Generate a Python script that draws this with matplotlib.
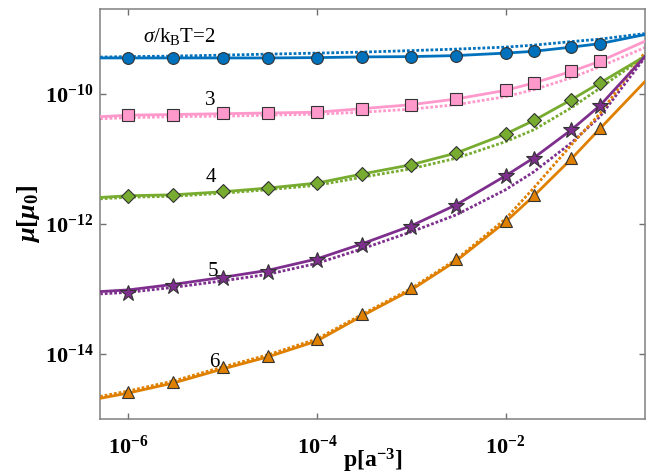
import numpy as np
import matplotlib
matplotlib.use('Agg')
from matplotlib import pyplot as plt
import matplotlib.ticker as mtick

plt.rcParams['font.family'] = ['Liberation Serif', 'DejaVu Serif']
plt.rcParams['mathtext.fontset'] = 'custom'
plt.rcParams['mathtext.rm'] = 'Liberation Serif'
plt.rcParams['mathtext.it'] = 'Liberation Serif:italic'
plt.rcParams['mathtext.bf'] = 'Liberation Serif:bold'
plt.rcParams['mathtext.sf'] = 'Liberation Serif:bold:italic'

# density p [a^-3]
p_line = [5e-7, 1e-6, 3e-6, 1e-5, 3e-5, 1e-4, 3e-4, 1e-3, 3e-3, 1e-2, 2e-2, 5e-2, 1e-1, 3e-1]
p_mark = [1e-6, 3e-6, 1e-5, 3e-5, 1e-4, 3e-4, 1e-3, 3e-3, 1e-2, 2e-2, 5e-2, 1e-1]

# sigma/kBT = 2
mu2_solid = [3.54e-10, 3.54e-10, 3.54e-10, 3.54e-10, 3.54e-10, 3.58e-10, 3.67e-10,
             3.71e-10, 3.85e-10, 4.20e-10, 4.48e-10, 5.19e-10, 5.87e-10, 8.09e-10]
mu2_dot = [3.65e-10, 3.71e-10, 3.78e-10, 3.91e-10, 4.05e-10, 4.20e-10, 4.35e-10,
           4.59e-10, 4.84e-10, 5.19e-10, 5.57e-10, 6.31e-10, 6.89e-10, 8.37e-10]
mu2_mark = [3.54e-10, 3.54e-10, 3.54e-10, 3.54e-10, 3.58e-10, 3.67e-10,
            3.71e-10, 3.85e-10, 4.20e-10, 4.48e-10, 5.19e-10, 5.87e-10]

# sigma/kBT = 3
mu3_solid = [4.43e-11, 4.67e-11, 4.79e-11, 4.92e-11, 5.05e-11, 5.19e-11, 5.88e-11,
             6.77e-11, 8.29e-11, 1.124e-10, 1.461e-10, 2.20e-10, 3.14e-10, 6.38e-10]
mu3_dot = [4.12e-11, 4.27e-11, 4.43e-11, 4.51e-11, 4.67e-11, 4.84e-11, 5.19e-11,
           5.78e-11, 6.77e-11, 8.99e-11, 1.152e-10, 1.76e-10, 2.60e-10, 5.10e-10]
mu3_mark = [4.75e-11, 4.75e-11, 5.05e-11, 5.05e-11, 5.16e-11, 5.88e-11,
            6.77e-11, 8.29e-11, 1.124e-10, 1.461e-10, 2.20e-10, 3.14e-10]

# sigma/kBT = 4
mu4_solid = [2.54e-12, 2.70e-12, 2.79e-12, 3.11e-12, 3.54e-12, 4.23e-12, 5.82e-12,
             8.09e-12, 1.224e-11, 2.40e-11, 3.88e-11, 8.09e-11, 1.461e-10, 3.75e-10]
mu4_dot = [2.42e-12, 2.56e-12, 2.65e-12, 2.95e-12, 3.34e-12, 3.91e-12, 5.19e-12,
           7.02e-12, 1.018e-11, 1.83e-11, 2.79e-11, 6.09e-11, 1.215e-10, 3.75e-10]
mu4_mark = [2.70e-12, 2.79e-12, 3.14e-12, 3.54e-12, 4.23e-12, 5.82e-12,
            8.09e-12, 1.224e-11, 2.40e-11, 3.88e-11, 8.09e-11, 1.461e-10]

# sigma/kBT = 5
mu5_solid = [9.09e-14, 9.65e-14, 1.173e-13, 1.503e-13, 1.926e-13, 2.89e-13, 4.92e-13,
             9.32e-13, 1.96e-12, 5.47e-12, 1.036e-11, 2.79e-11, 6.54e-11, 3.71e-10]
mu5_dot = [8.38e-14, 8.84e-14, 1.055e-13, 1.328e-13, 1.672e-13, 2.47e-13, 4.12e-13,
           7.53e-13, 1.375e-12, 3.34e-12, 6.31e-12, 1.763e-11, 4.43e-11, 3.58e-10]
mu5_mark = [8.59e-14, 1.124e-13, 1.461e-13, 1.806e-13, 2.79e-13, 4.75e-13,
            8.90e-13, 1.845e-12, 5.34e-12, 1.0e-11, 2.74e-11, 6.47e-11]

# sigma/kBT = 6
mu6_solid = [2.08e-15, 2.51e-15, 3.58e-15, 5.88e-15, 8.99e-15, 1.585e-14, 3.84e-14,
             9.65e-14, 2.70e-13, 1.074e-12, 2.70e-12, 1.0e-11, 2.89e-11, 1.53e-10]
mu6_dot = [2.22e-15, 2.70e-15, 3.84e-15, 6.31e-15, 9.65e-15, 1.70e-14, 4.05e-14,
           1.018e-13, 2.84e-13, 1.194e-12, 3.58e-12, 1.642e-11, 4.92e-11, 4.27e-10]
mu6_mark = [2.63e-15, 3.75e-15, 6.24e-15, 9.32e-15, 1.684e-14, 4.08e-14,
            1.025e-13, 2.86e-13, 1.124e-12, 2.79e-12, 1.025e-11, 2.97e-11]

curves = [
    (mu2_solid, mu2_dot, mu2_mark, '#0072BD', 'o', 8.5),
    (mu3_solid, mu3_dot, mu3_mark, '#FF99CC', 's', 8),
    (mu4_solid, mu4_dot, mu4_mark, '#77AC30', 'D', 7.5),
    (mu5_solid, mu5_dot, mu5_mark, '#7E2F8E', '*', 12),
    (mu6_solid, mu6_dot, mu6_mark, '#DF8000', '^', 9),
]

fig = plt.figure(figsize=(6.54, 4.74), dpi=100)
ax = fig.add_axes([0.153, 0.116, 0.833, 0.865])

for solid, dot, mark, c, m, ms in curves:
    ax.plot(p_line, dot, color=c, lw=2.0, dashes=(1.0, 0.7), zorder=2)
    ax.plot(p_line, solid, color=c, lw=2.0, zorder=3)
    ax.plot(p_mark, mark, ls='none', marker=m, ms=ms, mfc=c, mec='#333333',
            mew=0.8, zorder=4)

ax.set_xscale('log')
ax.set_yscale('log')
ax.set_xlim(5e-7, 0.3)
ax.set_ylim(1e-15, 2e-9)
ax.set_xticks([1e-6, 1e-4, 1e-2])
ax.set_yticks([1e-14, 1e-12, 1e-10])
ax.xaxis.set_minor_locator(mtick.NullLocator())
ax.yaxis.set_minor_locator(mtick.NullLocator())

def fmt(v, pos):
    return r'$\mathbf{10^{%d}}$' % int(round(np.log10(v)))

ax.xaxis.set_major_formatter(mtick.FuncFormatter(fmt))
ax.yaxis.set_major_formatter(mtick.FuncFormatter(fmt))
ax.tick_params(which='major', direction='in', length=4, width=1, color='#707070',
               top=True, right=True, labelsize=16)
ax.tick_params(axis='x', pad=12)
ax.tick_params(axis='y', pad=5)
for s in ax.spines.values():
    s.set_color('#808080')
    s.set_linewidth(1.1)

ax.set_xlabel(r'$\mathbf{p[a^{-3}]}$', fontsize=17, labelpad=-9)
ax.set_ylabel(r'$\mathsf{\mu}\mathbf{[}\mathsf{\mu}_\mathbf{0}\mathbf{]}$', fontsize=19, labelpad=2)

ax.text(0.079, 0.9195, r'$\mathit{\sigma}$/k$_\mathrm{B}$T=2', transform=ax.transAxes,
        fontsize=15, ha='left', va='baseline')
ax.text(0.202, 0.778, '3', transform=ax.transAxes, fontsize=15, ha='center', va='center')
ax.text(0.204, 0.588, '4', transform=ax.transAxes, fontsize=15, ha='center', va='center')
ax.text(0.208, 0.359, '5', transform=ax.transAxes, fontsize=15, ha='center', va='center')
ax.text(0.209, 0.137, '6', transform=ax.transAxes, fontsize=15, ha='center', va='center')

fig.savefig('out.png', dpi=100)
